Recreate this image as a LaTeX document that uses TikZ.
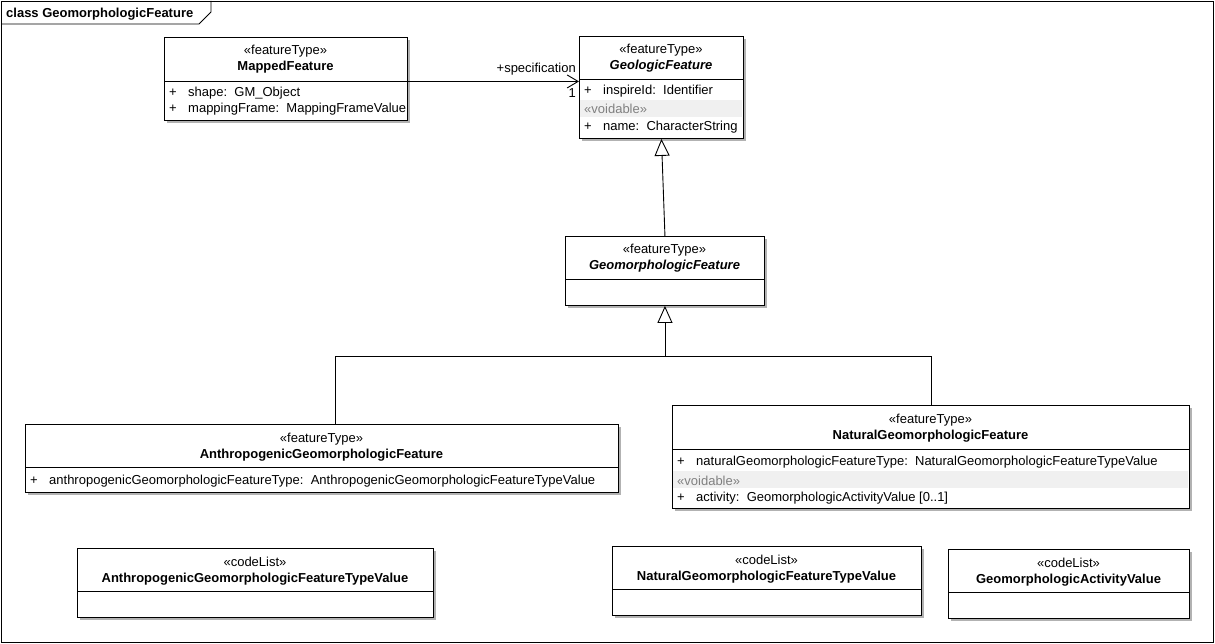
\documentclass[tikz,border=0pt]{standalone}
\usepackage{fontspec}
\setmainfont{Liberation Sans}
\usetikzlibrary{arrows.meta,shadows,calc}
\newcommand\umlcls[8]{%
  \node[umlbox, minimum width={#4pt-#2pt}, minimum height={#5pt-#3pt}] (#1) at (#2,#3) {};
  \draw[umlline] ($(#1.north west)+(0,#6-#3)$) -- ($(#1.north east)+(0,#6-#3)$);
  \node[stereo] (#1-st) at ({(#2+#4)/2},{#3+18}) {«#7»};
  \node[clsname] (#1-nm) at ({(#2+#4)/2},{#3+34}) {#8};
}
\newcommand\umlattr[4]{%
  \node[attr] (#1-p) at ({#2+5},#3) {+};
  \node[attr] (#1) at ({#2+24},#3) {#4};
}
\newcommand\umlvoid[5]{%
  \fill[voidband] ({#2+1},#3) rectangle ({#4-1},{#3+17});
  \node[attr, text=black!50] (#1) at ({#2+5},#5) {«voidable»};
}
\begin{document}
\begin{tikzpicture}[x=1pt,y=-1pt,
  every node/.style={font=\fontsize{13}{15}\selectfont},
  umlline/.style={line width=0.9pt, draw=black},
  umlbox/.style={draw=black, line width=0.9pt, fill=white, anchor=north west, inner sep=0pt,
    drop shadow={shadow xshift=3pt, shadow yshift=-3pt, fill=black!30, opacity=1}},
  stereo/.style={anchor=base, inner sep=0pt},
  clsname/.style={anchor=base, inner sep=0pt, font=\fontsize{13}{15}\selectfont\bfseries},
  attr/.style={anchor=base west, inner sep=0pt},
  voidband/.style={fill=black!6},
]
\useasboundingbox (0,0) rectangle (1215,644);
\fill[white] (0,0) rectangle (1215,644);
% frame
\draw[umlline] (1,1) rectangle (1213,642);
\draw[umlline] (1,24) -- (199,24) -- (211,12) -- (211,1);
\node[attr, font=\fontsize{13}{15}\selectfont\bfseries] (title) at (6,18) {class GeomorphologicFeature};

% MappedFeature
\umlcls{mf}{164}{37}{407}{120}{81}{featureType}{MappedFeature}
\umlattr{mfa}{164}{97}{shape:\ \ GM\_Object}
\umlattr{mfb}{164}{113}{mappingFrame:\ \ MappingFrameValue}

% GeologicFeature
\umlcls{gf}{579}{36}{743}{138}{79}{featureType}{\itshape GeologicFeature}
\umlattr{gfa}{579}{95}{inspireId:\ \ Identifier}
\umlvoid{gfv}{579}{100}{743}{114}
\umlattr{gfb}{579}{131}{name:\ \ CharacterString}

% GeomorphologicFeature
\umlcls{gmf}{565}{236}{764}{305}{279}{featureType}{\itshape GeomorphologicFeature}

% Anthropogenic
\umlcls{anth}{25}{424}{618}{492}{467}{featureType}{AnthropogenicGeomorphologicFeature}
\umlattr{antha}{25}{484}{anthropogenicGeomorphologicFeatureType:\ \ AnthropogenicGeomorphologicFeatureTypeValue}

% Natural
\umlcls{nat}{672}{405}{1189}{508}{449}{featureType}{NaturalGeomorphologicFeature}
\umlattr{nata}{672}{465}{naturalGeomorphologicFeatureType:\ \ NaturalGeomorphologicFeatureTypeValue}
\umlvoid{natv}{672}{471}{1189}{485}
\umlattr{natb}{672}{501}{activity:\ \ GeomorphologicActivityValue [0..1]}

% code lists
\umlcls{cl1}{77}{548}{433}{617}{591}{codeList}{AnthropogenicGeomorphologicFeatureTypeValue}
\umlcls{cl2}{612}{546}{921}{615}{589}{codeList}{NaturalGeomorphologicFeatureTypeValue}
\umlcls{cl3}{948}{549}{1189}{618}{592}{codeList}{GeomorphologicActivityValue}

% association
\draw[umlline, -{Straight Barb[length=11pt,width=13pt,line width=0.9pt]}]
  ([yshift=-2.5pt]mf.east) -- ([yshift=-2.5pt]mf.east -| gf.west);
\node[anchor=base east, inner sep=0pt] (spec) at (576,73) {+specification};
\node[anchor=base east, inner sep=0pt] (mult) at (576,98) {1};

% generalizations
\draw[umlline, -{Triangle[open,length=17pt,width=15pt,fill=white,line width=0.9pt]}] (gmf.north) -- (gf.south);
\coordinate (j) at (gmf.south |- 0,356);
\draw[umlline, -{Triangle[open,length=17pt,width=15pt,fill=white,line width=0.9pt]}] (j) -- (gmf.south);
\draw[umlline] ([xshift=13.5pt]anth.north) |- (nat.north |- j) -- (nat.north);
\end{tikzpicture}
\end{document}
